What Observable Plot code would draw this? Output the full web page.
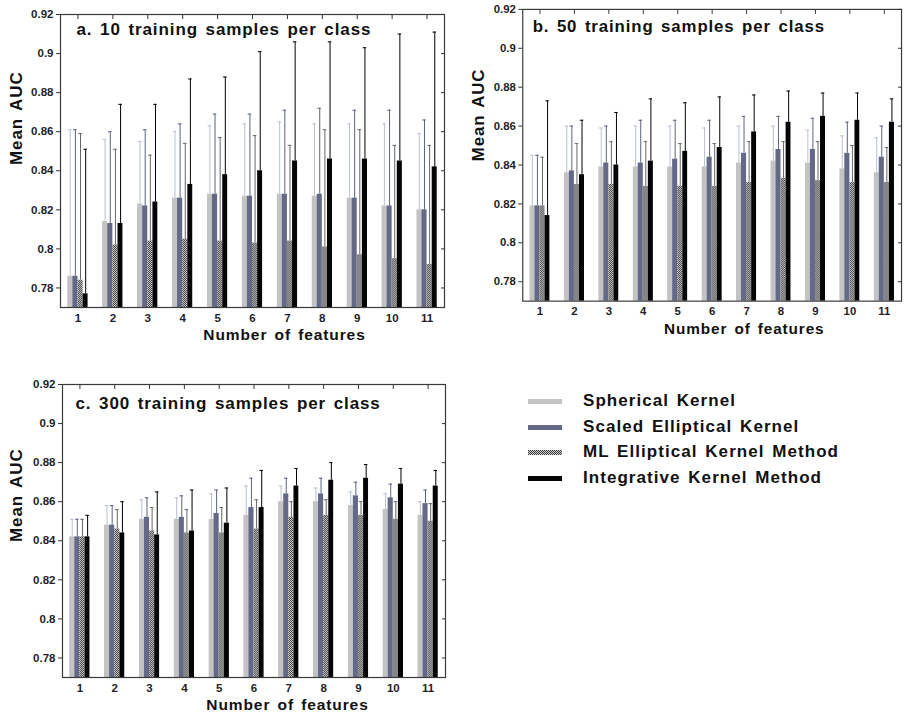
<!DOCTYPE html>
<html>
<head>
<meta charset="utf-8">
<script src="https://cdn.jsdelivr.net/npm/d3@7"></script>
<script src="https://cdn.jsdelivr.net/npm/@observablehq/plot@0.6"></script>
<style>
  html, body { margin: 0; padding: 0; background: #fff; }
  body { position: relative; width: 905px; height: 716px; overflow: hidden;
         font-family: "Liberation Sans", Arial, sans-serif; }
  .panel { position: absolute; }
  .panel svg { overflow: visible; }
  g[aria-label="text"] text { letter-spacing: 0.9px; word-spacing: 2px; }
  .legend { position: absolute; left: 0; top: 0; }
  .legend .row { position: absolute; left: 528px; height: 26px; display: flex; align-items: center; }
  .legend .row svg { display: block; }
  .legend .row span { position: absolute; left: 55px; white-space: nowrap; font-weight: bold;
                      font-size: 17px; letter-spacing: 1.05px; word-spacing: 2px; color: #111; }
</style>
</head>
<body>
<svg width="0" height="0" style="position:absolute">
  <defs>
    <pattern id="ml-dots" width="2" height="2" patternUnits="userSpaceOnUse">
      <rect width="2" height="2" fill="#d2d2d2"></rect>
      <rect width="1" height="1" fill="#3a3a3a"></rect>
      <rect x="1" y="1" width="1" height="1" fill="#3a3a3a"></rect>
    </pattern>
  </defs>
</svg>
<div id="charts"></div>
<script>
// Number of features on the x axis
const features = [1, 2, 3, 4, 5, 6, 7, 8, 9, 10, 11];
const methods = ["Spherical Kernel", "Scaled Elliptical Kernel", "ML Elliptical Kernel Method", "Integrative Kernel Method"];
const yTicks = [0.78, 0.8, 0.82, 0.84, 0.86, 0.88, 0.9, 0.92];
const panelTitles = ["a. 10 training samples per class", "b. 50 training samples per class", "c. 300 training samples per class"];

// Mean AUC, 10 training samples per class
const spherical10 = [0.786, 0.814, 0.823, 0.826, 0.828, 0.827, 0.828, 0.827, 0.826, 0.822, 0.820];
const scaled10 = [0.786, 0.813, 0.822, 0.826, 0.828, 0.827, 0.828, 0.828, 0.826, 0.822, 0.820];
const ml10 = [0.784, 0.802, 0.804, 0.805, 0.804, 0.803, 0.804, 0.801, 0.797, 0.795, 0.792];
const integrative10 = [0.777, 0.813, 0.824, 0.833, 0.838, 0.840, 0.845, 0.846, 0.846, 0.845, 0.842];
// Upper end of the error bars, 10 training samples per class
const spherical10Upper = [0.861, 0.856, 0.855, 0.860, 0.863, 0.864, 0.865, 0.864, 0.864, 0.864, 0.859];
const scaled10Upper = [0.861, 0.860, 0.861, 0.864, 0.869, 0.869, 0.871, 0.872, 0.871, 0.871, 0.866];
const ml10Upper = [0.859, 0.851, 0.848, 0.854, 0.857, 0.858, 0.853, 0.861, 0.861, 0.853, 0.853];
const integrative10Upper = [0.851, 0.874, 0.874, 0.887, 0.888, 0.901, 0.906, 0.906, 0.903, 0.910, 0.911];

// Mean AUC, 50 training samples per class
const spherical50 = [0.819, 0.836, 0.839, 0.839, 0.839, 0.839, 0.841, 0.842, 0.841, 0.838, 0.836];
const scaled50 = [0.819, 0.837, 0.841, 0.841, 0.843, 0.844, 0.846, 0.848, 0.848, 0.846, 0.844];
const ml50 = [0.819, 0.830, 0.830, 0.829, 0.829, 0.829, 0.831, 0.833, 0.832, 0.831, 0.831];
const integrative50 = [0.814, 0.835, 0.840, 0.842, 0.847, 0.849, 0.857, 0.862, 0.865, 0.863, 0.862];
const spherical50Upper = [0.845, 0.860, 0.859, 0.860, 0.860, 0.859, 0.860, 0.860, 0.858, 0.855, 0.854];
const scaled50Upper = [0.845, 0.860, 0.860, 0.863, 0.863, 0.863, 0.865, 0.865, 0.864, 0.862, 0.860];
const ml50Upper = [0.844, 0.851, 0.852, 0.852, 0.851, 0.851, 0.852, 0.852, 0.852, 0.850, 0.849];
const integrative50Upper = [0.873, 0.863, 0.867, 0.874, 0.872, 0.875, 0.876, 0.878, 0.877, 0.877, 0.874];

// Mean AUC, 300 training samples per class
const spherical300 = [0.842, 0.848, 0.851, 0.851, 0.851, 0.853, 0.860, 0.860, 0.858, 0.856, 0.853];
const scaled300 = [0.842, 0.848, 0.852, 0.852, 0.854, 0.857, 0.864, 0.864, 0.863, 0.862, 0.859];
const ml300 = [0.842, 0.846, 0.845, 0.844, 0.844, 0.846, 0.852, 0.853, 0.853, 0.851, 0.850];
const integrative300 = [0.842, 0.844, 0.843, 0.845, 0.849, 0.857, 0.868, 0.871, 0.872, 0.869, 0.868];
const spherical300Upper = [0.851, 0.858, 0.861, 0.862, 0.864, 0.868, 0.868, 0.867, 0.865, 0.864, 0.860];
const scaled300Upper = [0.851, 0.858, 0.862, 0.863, 0.866, 0.872, 0.872, 0.872, 0.870, 0.869, 0.866];
const ml300Upper = [0.851, 0.856, 0.857, 0.856, 0.857, 0.861, 0.860, 0.861, 0.860, 0.860, 0.859];
const integrative300Upper = [0.853, 0.860, 0.865, 0.866, 0.867, 0.876, 0.877, 0.880, 0.879, 0.877, 0.876];

const barFills = ["#c3c3c3", "#636987", "url(#ml-dots)", "#050505"];
const errStrokes = ["#b7c1d2", "#5b6281", "#666666", "#000000"];
const fontFamily = "'Liberation Sans', Arial, sans-serif";
const groupPadding = 0.41; // gap between feature groups, as a fraction of the step

// long-format table: one row per (feature, method)
function table(means, uppers) {
  const rows = [];
  features.forEach((f, i) => {
    methods.forEach((m, k) => rows.push({feature: f, method: m, mean: means[k][i], upper: uppers[k][i]}));
  });
  return rows;
}

const panels = [
  {title: panelTitles[0], left: 0, top: 0, width: 450, height: 352,
   margin: [14, 6, 45, 60], titleOffset: [16, 15], yLabel: [-44, 4], xLabel: [32, 27.5],
   rows: table([spherical10, scaled10, ml10, integrative10],
               [spherical10Upper, scaled10Upper, ml10Upper, integrative10Upper])},
  {title: panelTitles[1], left: 455, top: 0, width: 455, height: 352,
   margin: [9, 4, 48, 68], titleOffset: [10, 17], yLabel: [-45, 6], xLabel: [32.5, 28.5],
   rows: table([spherical50, scaled50, ml50, integrative50],
               [spherical50Upper, scaled50Upper, ml50Upper, integrative50Upper])},
  {title: panelTitles[2], left: 0, top: 370, width: 450, height: 346,
   margin: [14, 5, 39, 62], titleOffset: [13, 19.5], yLabel: [-46, 11], xLabel: [33.5, 27.5],
   rows: table([spherical300, scaled300, ml300, integrative300],
               [spherical300Upper, scaled300Upper, ml300Upper, integrative300Upper])}
];

const container = document.getElementById("charts");

for (const p of panels) {
  const [mt, mr, mb, ml] = p.margin;
  // outer facet padding: frame, axes and labels are pushed out by this much
  const step = (p.width - ml - mr) / features.length;
  const edge = step * groupPadding / 2;
  const chart = Plot.plot({
    width: p.width,
    height: p.height,
    marginTop: mt, marginRight: mr, marginBottom: mb, marginLeft: ml,
    style: {fontFamily, fontWeight: "bold", fontSize: "11.5px", color: "#1e1e2a", background: "transparent"},
    fx: {domain: features, paddingInner: groupPadding, paddingOuter: groupPadding / 2, round: false, label: null},
    x: {domain: methods, padding: 0, round: false, axis: null},
    y: {domain: [0.77, 0.92], axis: null},
    color: {domain: methods, range: barFills},
    marks: [
      Plot.barY(p.rows, {fx: "feature", x: "method", y: "mean", fill: "method", clip: true}),
      Plot.ruleX(p.rows, {fx: "feature", x: "method", y1: "mean", y2: "upper",
                          stroke: d => errStrokes[methods.indexOf(d.method)], strokeWidth: 1}),
      Plot.tickY(p.rows, {fx: "feature", x: "method", y: "upper", inset: 0.8,
                          stroke: d => errStrokes[methods.indexOf(d.method)], strokeWidth: 1}),
      Plot.frame({facet: "super", stroke: "#3a3a3a", strokeWidth: 1.2, insetLeft: -edge, insetRight: -edge}),
      Plot.axisY({anchor: "left", ticks: yTicks, tickSize: 4, tickPadding: 3, dx: -edge,
                  tickFormat: d => String(+d.toFixed(2)), label: null, stroke: "#333"}),
      Plot.axisY({anchor: "right", ticks: yTicks, tickSize: -4, dx: edge,
                  tickFormat: () => "", label: null, stroke: "#333"}),
      Plot.axisFx({anchor: "bottom", tickSize: 0, tickPadding: 6, label: null}),
      Plot.axisFx({anchor: "top", tickSize: -4, tickFormat: () => "", label: null, stroke: "#333"}),
      Plot.text([p.title], {facet: "super", frameAnchor: "top-left", text: d => d,
                            dx: p.titleOffset[0] - edge, dy: p.titleOffset[1], textAnchor: "start",
                            lineAnchor: "middle", fontSize: 17, fontWeight: "bold", fill: "#111"}),
      Plot.text(["Mean AUC"], {facet: "super", frameAnchor: "left", text: d => d,
                               dx: p.yLabel[0] - edge, dy: p.yLabel[1], rotate: -90, lineAnchor: "middle",
                               fontSize: 17, fontWeight: "bold", fill: "#111"}),
      Plot.text(["Number of features"], {facet: "super", frameAnchor: "bottom", text: d => d,
                                         dx: p.xLabel[0], dy: p.xLabel[1], lineAnchor: "middle",
                                         fontSize: 15.5, fontWeight: "bold", fill: "#111"})
    ]
  });
  const wrap = document.createElement("div");
  wrap.className = "panel";
  wrap.style.left = p.left + "px";
  wrap.style.top = p.top + "px";
  wrap.appendChild(chart);
  container.appendChild(wrap);
}

// legend
const legend = document.createElement("div");
legend.className = "legend";
const rowCenters = [401, 427, 452, 478];
methods.forEach((m, k) => {
  const row = document.createElement("div");
  row.className = "row";
  row.style.top = (rowCenters[k] - 13) + "px";
  const sw = d3.create("svg").attr("width", 34).attr("height", 5);
  sw.append("rect").attr("width", 34).attr("height", 5).attr("fill", barFills[k]);
  row.appendChild(sw.node());
  const label = document.createElement("span");
  label.textContent = m;
  row.appendChild(label);
  legend.appendChild(row);
});
document.body.appendChild(legend);
</script>
</body>
</html>
